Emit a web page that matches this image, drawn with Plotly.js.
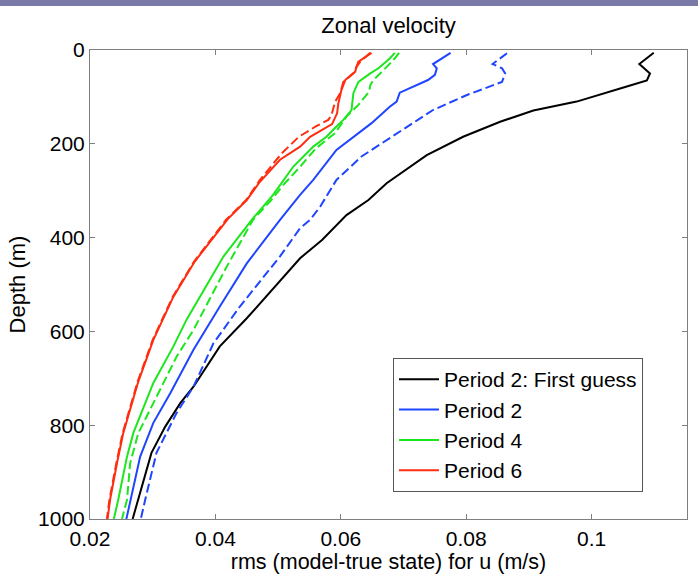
<!DOCTYPE html>
<html>
<head>
<meta charset="utf-8">
<script src="https://cdn.plot.ly/plotly-3.0.1.min.js"></script>
<style>
  html, body { margin: 0; padding: 0; background: #ffffff; }
  #topbar { position: absolute; left: 0; top: 0; width: 698px; height: 6px; background: #7a79a8; z-index: 10; }
  #chart { width: 698px; height: 579px; }
</style>
</head>
<body>
<div id="topbar"></div>
<div id="chart"></div>
<script>
// ---- data (rms in m/s, depth in m) ----
const firstGuessRms   = [0.1099, 0.1076, 0.1093, 0.1088, 0.1056, 0.0976, 0.0907, 0.0854, 0.0795, 0.0737, 0.0673, 0.0644, 0.0609, 0.0570, 0.0535, 0.0450, 0.0407, 0.0365, 0.0344, 0.0320, 0.0298, 0.0277, 0.0268];
const firstGuessDepth = [6, 30, 50, 65, 78, 110, 129, 153, 185, 224, 284, 320, 352, 405, 444, 572, 632, 718, 753, 803, 859, 959, 1000];

const p2Rms   = [0.0775, 0.0747, 0.0753, 0.0750, 0.0739, 0.0694, 0.0689, 0.0678, 0.0649, 0.0620, 0.0593, 0.0556, 0.0535, 0.0503, 0.0450, 0.0407, 0.0365, 0.0328, 0.0301, 0.0280, 0.0264, 0.0258];
const p2Depth = [6, 30, 39, 53, 64, 91, 110, 121, 156, 185, 213, 277, 309, 362, 455, 547, 639, 732, 795, 867, 959, 1000];

const p2dRms   = [0.0865, 0.0842, 0.0857, 0.0862, 0.0857, 0.0801, 0.0747, 0.0689, 0.0633, 0.0593, 0.0567, 0.0551, 0.0535, 0.0503, 0.0439, 0.0397, 0.0365, 0.0338, 0.0306, 0.0288, 0.0281];
const p2dDepth = [7, 30, 39, 50, 68, 96, 128, 178, 227, 277, 334, 362, 380, 440, 547, 625, 718, 774, 859, 959, 1000];

const p4Rms   = [0.0686, 0.0678, 0.0660, 0.0647, 0.0628, 0.0620, 0.0617, 0.0604, 0.0593, 0.0577, 0.0556, 0.0535, 0.0524, 0.0492, 0.0458, 0.0413, 0.0354, 0.0333, 0.0301, 0.0269, 0.0259, 0.0245, 0.0238];
const p4Depth = [6, 18, 39, 50, 68, 92, 128, 149, 163, 185, 206, 234, 249, 309, 362, 440, 575, 632, 710, 817, 867, 959, 1000];

const p4dRms   = [0.0693, 0.0684, 0.0668, 0.0652, 0.0647, 0.0645, 0.0628, 0.0609, 0.0591, 0.0560, 0.0535, 0.0508, 0.0489, 0.0460, 0.0418, 0.0365, 0.0338, 0.0304, 0.0277, 0.0264, 0.0259, 0.0251];
const p4dDepth = [6, 21, 43, 64, 75, 89, 117, 142, 177, 210, 249, 288, 320, 362, 462, 597, 654, 746, 817, 881, 959, 1000];

const p6Rms   = [0.0649, 0.0636, 0.0628, 0.0625, 0.0623, 0.0607, 0.0601, 0.0596, 0.0594, 0.0586, 0.0562, 0.0551, 0.0535, 0.0503, 0.0471, 0.0450, 0.0420, 0.0367, 0.0333, 0.0301, 0.0277, 0.0253, 0.0243, 0.0232, 0.0228];
const p6Depth = [6, 18, 25, 36, 46, 64, 85, 114, 135, 158, 177, 185, 206, 234, 281, 320, 360, 451, 526, 618, 707, 817, 881, 959, 1000];

const p6dRms   = [0.0647, 0.0631, 0.0625, 0.0620, 0.0604, 0.0599, 0.0591, 0.0585, 0.0580, 0.0560, 0.0533, 0.0506, 0.0471, 0.0449, 0.0417, 0.0366, 0.0332, 0.0300, 0.0276, 0.0252, 0.0242, 0.0231, 0.0227];
const p6dDepth = [6, 25, 36, 50, 68, 92, 110, 139, 149, 163, 185, 220, 277, 320, 362, 451, 526, 618, 707, 817, 881, 959, 1000];

const seriesNames = ['Period 2: First guess', 'Period 2', 'Period 4', 'Period 6'];
const xTickVals = [0.02, 0.04, 0.06, 0.08, 0.1];
const xTickText = ['0.02', '0.04', '0.06', '0.08', '0.1'];
const yTickVals = [0, 200, 400, 600, 800, 1000];
const yTickText = ['0', '200', '400', '600', '800', '1000'];

const BLACK = '#000000', BLUE = '#1f45ff', GREEN = '#1ee61e', RED = '#ff2d0f';
const FONT = 'Liberation Sans, Arial, Helvetica, sans-serif';
const DASH = '9px,4px';

function tr(x, y, name, color, dash, group, show) {
  return {
    x: x, y: y, type: 'scatter', mode: 'lines', name: name,
    legendgroup: group, showlegend: show,
    line: { color: color, width: 2, dash: dash }
  };
}

const traces = [
  tr(firstGuessRms, firstGuessDepth, seriesNames[0], BLACK, 'solid', 'g0', true),
  tr(p2Rms, p2Depth, seriesNames[1], BLUE, 'solid', 'g1', true),
  tr(p2dRms, p2dDepth, seriesNames[1] + ' (dashed)', BLUE, DASH, 'g1', false),
  tr(p4Rms, p4Depth, seriesNames[2], GREEN, 'solid', 'g2', true),
  tr(p4dRms, p4dDepth, seriesNames[2] + ' (dashed)', GREEN, DASH, 'g2', false),
  tr(p6Rms, p6Depth, seriesNames[3], RED, 'solid', 'g3', true),
  tr(p6dRms, p6dDepth, seriesNames[3] + ' (dashed)', RED, DASH, 'g3', false)
];

const axisCommon = {
  showline: true, linecolor: '#7f7f7f', linewidth: 1, mirror: 'ticks',
  ticks: 'inside', ticklen: 5, tickwidth: 1, tickcolor: '#7f7f7f',
  showgrid: false, zeroline: false,
  tickfont: { family: FONT, size: 21, color: '#000' }
};

const layout = {
  width: 698, height: 579,
  margin: { l: 90, r: 11, t: 50, b: 60 },
  paper_bgcolor: '#ffffff', plot_bgcolor: '#ffffff',
  font: { family: FONT, color: '#000' },
  title: {
    text: 'Zonal velocity',
    font: { family: FONT, size: 22, color: '#000' },
    xref: 'paper', x: 0.5, xanchor: 'center',
    yref: 'container', y: 1 - 25 / 579, yanchor: 'middle'
  },
  xaxis: Object.assign({}, axisCommon, {
    range: [0.02, 0.1152],
    tickvals: xTickVals, ticktext: xTickText,
    ticklabelstandoff: 1,
    title: { text: 'rms (model-true state) for u (m/s)', font: { family: FONT, size: 21.5, color: '#000' }, standoff: 0 }
  }),
  yaxis: Object.assign({}, axisCommon, {
    range: [1000, 0],
    tickvals: yTickVals, ticktext: yTickText,
    title: { text: 'Depth (m)', font: { family: FONT, size: 22, color: '#000' }, standoff: 6 }
  }),
  legend: {
    x: 0.5075, y: 0.343, xanchor: 'left', yanchor: 'top',
    bgcolor: '#ffffff', bordercolor: '#555555', borderwidth: 1,
    font: { family: FONT, size: 21, color: '#000' },
    traceorder: 'grouped', tracegroupgap: 0,
    itemwidth: 40
  },
  showlegend: true
};

Plotly.newPlot('chart', traces, layout, { displayModeBar: false, staticPlot: true });
</script>
</body>
</html>
